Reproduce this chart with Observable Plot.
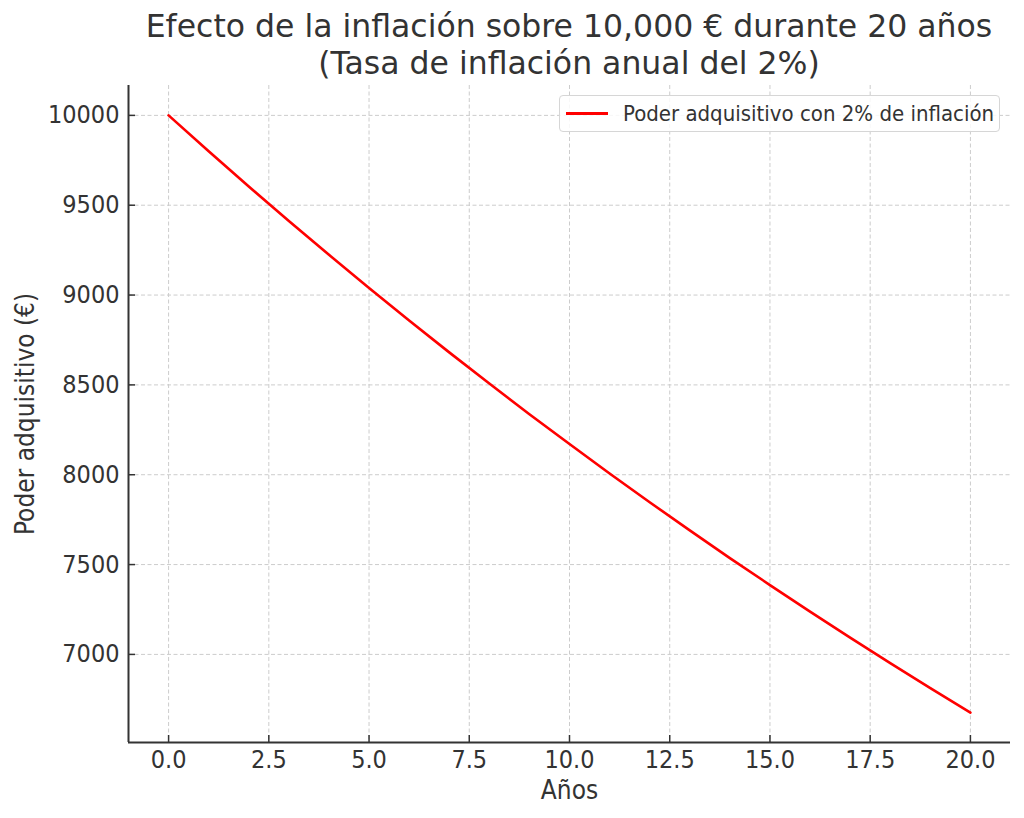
<!DOCTYPE html>
<html>
<head>
<meta charset="utf-8">
<script src="https://cdn.jsdelivr.net/npm/d3@7"></script>
<script src="https://cdn.jsdelivr.net/npm/@observablehq/plot@0.6"></script>
<style>
  body { margin: 0; background: #fff; }
  #wrap { position: relative; width: 1024px; height: 818px; font-family: "DejaVu Sans Condensed", "DejaVu Sans", sans-serif; color: #333; }
  #title { position: absolute; left: 128px; width: 882px; top: 8px; text-align: center; font-family: "DejaVu Sans", sans-serif; font-size: 31.5px; line-height: 37px; white-space: nowrap; }
  #chart { position: absolute; left: 0; top: 80px; }
  #legend { position: absolute; left: 559px; top: 95px; width: 441px; height: 37px; box-sizing: border-box; border: 1.5px solid #d6d6d6; border-radius: 4px; background: rgba(255,255,255,0.85); font-size: 22px; display: flex; align-items: center; white-space: nowrap; }
  #legend .swatch { width: 42px; height: 0; border-top: 3px solid #ff0000; margin-left: 6px; margin-right: 15px; }
</style>
</head>
<body>
<div id="wrap">
  <div id="title"><div>Efecto de la inflación sobre 10,000 € durante 20 años</div><div>(Tasa de inflación anual del 2%)</div></div>
  <div id="chart"></div>
  <div id="legend"><div class="swatch"></div><span id="legendText"></span></div>
</div>
<script>
// Data
const years = [0,1,2,3,4,5,6,7,8,9,10,11,12,13,14,15,16,17,18,19,20];
const values = [10000,9800,9604,9412,9224,9039,8858,8681,8508,8337,8171,8007,7847,7690,7536,7386,7238,7093,6951,6812,6676];
const xTicks = [0,2.5,5,7.5,10,12.5,15,17.5,20];
const yTicks = [7000,7500,8000,8500,9000,9500,10000];
const seriesName = "Poder adquisitivo con 2% de inflación";
const xLabel = "Años";
const yLabel = "Poder adquisitivo (€)";

document.getElementById("legendText").textContent = seriesName;

const data = years.map((y, i) => ({year: y, value: values[i]}));
const xDomain = [-1, 21];
const yDomain = [6509.7, 10166.3];
const axisColor = "#333";
const gridColor = "#cccccc";
const tickLenY = (yDomain[1] - yDomain[0]) * 7 / 657;
const tickLenX = (xDomain[1] - xDomain[0]) * 7 / 882;

const chart = Plot.plot({
  width: 1024,
  height: 738,
  marginLeft: 128,
  marginRight: 14,
  marginTop: 5,
  marginBottom: 76,
  style: {fontFamily: "'DejaVu Sans Condensed', 'DejaVu Sans', sans-serif", fontSize: "25px", color: axisColor, background: "transparent"},
  x: {domain: xDomain, ticks: xTicks},
  y: {domain: yDomain, ticks: yTicks},
  marks: [
    Plot.ruleX(xTicks, {stroke: gridColor, strokeWidth: 1, strokeDasharray: "4,2.5"}),
    Plot.ruleY(yTicks, {stroke: gridColor, strokeWidth: 1, strokeDasharray: "4,2.5"}),
    Plot.axisX(xTicks, {tickSize: 0, tickPadding: 8, tickFormat: d => d.toFixed(1), label: null, fontSize: 25}),
    Plot.axisY(yTicks, {tickSize: 0, tickPadding: 9, tickFormat: d => String(d), label: null, fontSize: 25}),
    Plot.ruleX(xTicks, {y1: yDomain[0], y2: yDomain[0] + tickLenY, stroke: axisColor, strokeWidth: 1.5}),
    Plot.ruleY(yTicks, {x1: xDomain[0], x2: xDomain[0] + tickLenX, stroke: axisColor, strokeWidth: 1.5}),
    Plot.line(data, {x: "year", y: "value", stroke: "#ff0000", strokeWidth: 2.6}),
    Plot.ruleX([xDomain[0]], {stroke: axisColor, strokeWidth: 2}),
    Plot.ruleY([yDomain[0]], {stroke: axisColor, strokeWidth: 2}),
    Plot.text([xLabel], {frameAnchor: "bottom", dy: 48, lineAnchor: "middle", fontSize: 26, fill: axisColor}),
    Plot.text([yLabel], {frameAnchor: "left", dx: -103, rotate: -90, textAnchor: "middle", lineAnchor: "middle", fontSize: 26, fill: axisColor})
  ]
});
document.getElementById("chart").appendChild(chart);
</script>
</body>
</html>
